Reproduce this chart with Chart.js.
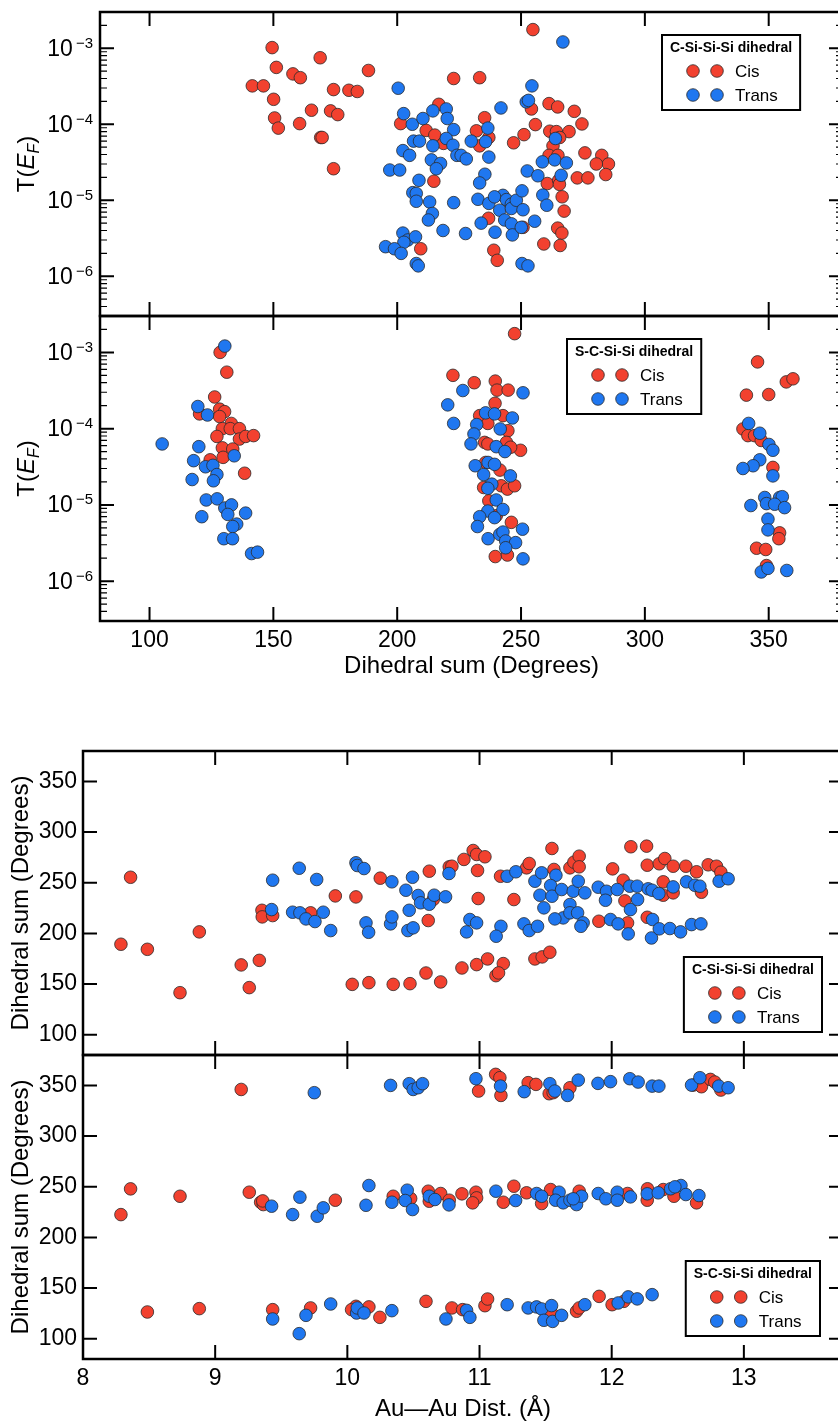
<!DOCTYPE html>
<html>
<head>
<meta charset="utf-8">
<script src="https://cdn.jsdelivr.net/npm/chart.js@4.4.1/dist/chart.umd.min.js"></script>
<style>
  html, body { margin: 0; padding: 0; background: #fff; overflow: hidden; width: 838px; height: 1424px; }
  canvas { position: absolute; left: 0; }
</style>
</head>
<body>
<canvas id="c1" width="860" height="330" style="top:0px;width:860px;height:330px"></canvas>
<canvas id="c2" width="860" height="400" style="top:300px;width:860px;height:400px"></canvas>
<canvas id="c3" width="860" height="346" style="top:730px;width:860px;height:346px"></canvas>
<canvas id="c4" width="860" height="390" style="top:1034px;width:860px;height:390px"></canvas>
<script>
const RED = "#f2412f";
const BLUE = "#1f77f0";
const EDGE = "#2b2b2b";
const FONT = '"Liberation Sans", Arial, Helvetica, sans-serif';

// tick labels
const dihedralTicks = [100, 150, 200, 250, 300, 350];
const transTicks = [1e-6, 1e-5, 1e-4, 1e-3];
const distTicks = [8, 9, 10, 11, 12, 13];
const sumTicks = [100, 150, 200, 250, 300, 350];

/* C-Si-Si-Si dihedral: sum vs T(EF) */
const csssCisSum = [149.5, 151.2, 157.9, 160.9, 168.9, 188.4, 141.5, 146, 150.1, 150.5, 152, 160.6, 165.4, 173.1, 176, 174.3, 180.5, 183.9, 169.1, 169.7, 174.3, 201.4, 209.5, 254.8, 222.8, 233.3, 216.8, 211.7, 215.2, 218.7, 235.3, 232, 237, 233.3, 214.8, 247, 251.2, 255.8, 254.2, 261.3, 264.8, 271.5, 274.6, 261.6, 264.3, 269.4, 265.6, 262.9, 261.3, 264.9, 275.8, 282.6, 285.3, 280.4, 284.2, 272.7, 277, 260.6, 265.2, 265.5, 266.6, 267.4, 264.8, 266.5, 259.2, 265.8, 236.9, 239, 240.4, 250.8];
const csssCisT = [1.02e-3, 5.6e-4, 4.6e-4, 4.1e-4, 7.5e-4, 5.1e-4, 3.2e-4, 3.2e-4, 2.13e-4, 1.21e-4, 8.9e-5, 1.02e-4, 1.53e-4, 1.5e-4, 1.34e-4, 2.86e-4, 2.8e-4, 2.7e-4, 6.7e-5, 6.7e-5, 2.6e-5, 1.02e-4, 2.3e-6, 1.76e-3, 4.0e-4, 4.1e-4, 1.83e-4, 8.3e-5, 7.2e-5, 5.6e-5, 1.22e-4, 8.2e-5, 6.7e-5, 5.2e-5, 1.78e-5, 5.7e-5, 7.3e-5, 9.9e-5, 1.59e-4, 1.87e-4, 1.69e-4, 1.48e-4, 1.01e-4, 8.1e-5, 8.0e-5, 8.0e-5, 6.7e-5, 5.2e-5, 3.9e-5, 3.9e-5, 4.2e-5, 3.9e-5, 3.0e-5, 3.0e-5, 2.18e-5, 1.97e-5, 1.97e-5, 1.66e-5, 1.83e-5, 1.62e-5, 1.11e-5, 7.2e-6, 4.3e-6, 3.7e-6, 2.66e-6, 2.54e-6, 5.8e-6, 2.2e-6, 1.62e-6, 4.4e-6];
const csssTransSum = [200.4, 202.6, 206.1, 206.6, 209, 202.3, 205, 197, 201, 208.8, 206.3, 207.7, 207.7, 202.3, 204.3, 202.7, 207.4, 195.3, 198.9, 201.6, 207.7, 208.5, 266.9, 254.4, 252.1, 253, 241.9, 210.4, 214.4, 219.8, 220.2, 222.8, 236.6, 219.8, 214.4, 222.5, 229.9, 235.7, 224.1, 225.8, 227.9, 237, 213.8, 217.5, 215.8, 213.1, 214.2, 212.6, 222.8, 235.4, 233.3, 232.6, 237, 242.7, 239.3, 241.4, 244.1, 246.1, 246.1, 248.1, 250.4, 250.8, 243.4, 246.1, 246.5, 250.1, 255.5, 239.5, 233.9, 218.5, 227.6, 250.4, 252.8, 252.5, 256.8, 258.8, 260.4, 258.6, 263.6, 268.3, 266.2, 263.9];
const csssTransT = [2.98e-4, 1.38e-4, 1.0e-4, 6.0e-5, 6.0e-5, 4.5e-5, 3.9e-5, 2.5e-5, 2.5e-5, 1.83e-5, 1.26e-5, 1.23e-5, 9.7e-6, 3.7e-6, 3.0e-6, 2.8e-6, 3.3e-6, 2.45e-6, 2.3e-6, 2.0e-6, 1.47e-6, 1.37e-6, 1.21e-3, 3.2e-4, 1.97e-4, 2.06e-4, 1.64e-4, 1.19e-4, 1.5e-4, 1.59e-4, 1.19e-4, 8.5e-5, 8.9e-5, 6.5e-5, 5.2e-5, 5.3e-5, 6.0e-5, 5.9e-5, 3.9e-5, 3.9e-5, 3.5e-5, 3.7e-5, 3.4e-5, 3.05e-5, 2.6e-5, 9.5e-6, 6.7e-6, 5.5e-6, 9.3e-6, 2.2e-5, 1.69e-5, 1.03e-5, 9.1e-6, 1.16e-5, 1.11e-5, 7.4e-6, 1.02e-5, 8.9e-6, 7.8e-6, 1.0e-5, 1.33e-5, 7.5e-6, 5.5e-6, 4.9e-6, 3.5e-6, 4.4e-6, 5.3e-6, 3.8e-6, 5.0e-6, 4.0e-6, 3.65e-6, 1.47e-6, 1.37e-6, 2.43e-5, 2.1e-5, 1.17e-5, 8.6e-6, 3.2e-5, 3.4e-5, 3.1e-5, 2.13e-5, 6.5e-5];

/* S-C-Si-Si dihedral: sum vs T(EF) */
const scssCisSum = [128.5, 131.2, 126.3, 128.3, 130.3, 128.3, 120.2, 133, 129.4, 132.6, 136.3, 127.2, 136.3, 138.8, 142, 129.4, 133.6, 129.7, 124.5, 138.4, 247.4, 222.5, 231.1, 239.6, 240.3, 244.8, 239.5, 233.3, 236.6, 242.7, 244.7, 235.3, 236.6, 244.1, 249.8, 245.8, 235.7, 241.5, 234.9, 242, 244.5, 247.4, 237, 240, 246.1, 239.6, 244.5, 345.5, 357.1, 359.8, 341, 350, 339.6, 341.6, 344.3, 347, 351.7, 354.4, 354.1, 345.1, 348.8, 349.1];
const scssCisT = [1.0e-3, 5.5e-4, 2.6e-4, 1.8e-4, 1.67e-4, 1.44e-4, 1.56e-4, 1.17e-4, 1.0e-4, 1.0e-4, 1.0e-4, 7.9e-5, 7.3e-5, 7.9e-5, 8.1e-5, 5.6e-5, 5.4e-5, 4.2e-5, 3.9e-5, 2.6e-5, 1.76e-3, 5.0e-4, 4.0e-4, 4.2e-4, 3.2e-4, 3.2e-4, 2.15e-4, 1.48e-4, 1.17e-4, 1.48e-4, 9.4e-5, 6.6e-5, 6.3e-5, 6.6e-5, 5.2e-5, 5.7e-5, 3.6e-5, 2.86e-5, 1.69e-5, 1.78e-5, 1.61e-5, 1.78e-5, 1.13e-5, 7.2e-6, 5.9e-6, 2.1e-6, 2.2e-6, 7.5e-4, 4.1e-4, 4.5e-4, 2.75e-4, 2.8e-4, 9.9e-5, 8.1e-5, 8.1e-5, 7.0e-5, 3.1e-5, 4.3e-6, 3.6e-6, 2.7e-6, 2.6e-6, 1.6e-6];
const scssTransSum = [130.4, 119.5, 123.4, 105.1, 119.9, 134.2, 117.8, 122.6, 125.6, 127.2, 117.2, 125.8, 122.9, 127.3, 130.4, 133.1, 131.6, 138.8, 121.1, 135.2, 133.6, 130, 133.5, 141.2, 143.6, 226.5, 250.8, 220.4, 222.8, 235.7, 239.3, 246.5, 232.1, 231, 241.6, 229.8, 240, 243.5, 231.5, 236.7, 239.3, 234.9, 245.7, 238.2, 236.6, 240, 236.6, 242.7, 233.3, 239.3, 232.4, 250.6, 236.7, 241.4, 242.7, 243.8, 247.8, 243.8, 250.8, 341.9, 346.4, 350.1, 351.7, 346.4, 343.7, 339.6, 351.7, 348.4, 354.4, 355.5, 349.1, 352.4, 356.4, 342.8, 349.7, 349.7, 347, 349.7, 357.3];
const scssTransT = [1.21e-3, 1.95e-4, 1.51e-4, 6.3e-5, 5.8e-5, 4.4e-5, 3.8e-5, 3.16e-5, 3.3e-5, 2.5e-5, 2.15e-5, 2.07e-5, 1.16e-5, 1.2e-5, 9.1e-6, 1.0e-5, 7.5e-6, 7.8e-6, 7.0e-6, 5.6e-6, 5.2e-6, 3.6e-6, 3.6e-6, 2.3e-6, 2.4e-6, 3.16e-4, 2.95e-4, 2.05e-4, 1.17e-4, 1.61e-4, 1.56e-4, 1.38e-4, 1.13e-4, 8.5e-5, 9.9e-5, 6.3e-5, 5.8e-5, 5.0e-5, 3.26e-5, 3.6e-5, 3.4e-5, 2.5e-5, 2.4e-5, 1.87e-5, 1.65e-5, 1.16e-5, 8.3e-6, 8.7e-6, 7.0e-6, 6.8e-6, 5.2e-6, 4.8e-6, 3.6e-6, 4.1e-6, 4.4e-6, 3.36e-6, 3.2e-6, 2.74e-6, 1.96e-6, 1.17e-4, 8.7e-5, 6.2e-5, 5.2e-5, 3.9e-5, 3.26e-5, 3.0e-5, 2.4e-5, 1.25e-5, 1.25e-5, 1.28e-5, 1.04e-5, 1.02e-5, 9.2e-6, 9.8e-6, 6.5e-6, 4.7e-6, 1.32e-6, 1.47e-6, 1.38e-6];

/* C-Si-Si-Si dihedral: Au-Au distance vs sum */
const csssCisDist = [8.287, 8.36, 8.487, 8.734, 8.88, 9.197, 9.258, 9.334, 9.354, 9.356, 9.435, 9.722, 9.909, 10.065, 10.037, 10.163, 10.347, 10.474, 10.249, 10.595, 10.706, 10.867, 10.978, 11.061, 11.18, 11.124, 11.144, 11.419, 11.474, 11.532, 10.62, 10.771, 10.791, 10.882, 10.952, 10.978, 11.041, 10.985, 10.99, 10.612, 10.65, 11.159, 11.26, 11.356, 11.376, 11.548, 11.563, 11.684, 11.714, 11.754, 11.754, 11.903, 12.007, 12.087, 12.1, 12.12, 12.145, 12.264, 12.269, 12.269, 12.36, 12.402, 12.465, 12.561, 12.642, 12.73, 12.793, 12.826, 12.39, 12.39, 12.465, 12.679];
const csssCisDeg = [189.3, 255.4, 184.3, 141.5, 201.5, 168.9, 146.5, 173.4, 222.8, 216.3, 217.6, 220.3, 237, 236, 149.7, 151.4, 149.7, 150.4, 254.5, 160.9, 152.1, 165.9, 169.2, 174.8, 170.2, 158.3, 161, 174.8, 176.8, 181.4, 261.4, 265.7, 266.3, 273, 281.8, 277.9, 275.6, 262.1, 234.4, 212.7, 233.4, 256.4, 233.4, 264.7, 269, 283.8, 263.1, 264.7, 270.3, 276.2, 265.7, 212, 263.7, 252.5, 232.1, 210.4, 285.5, 286.1, 267.3, 215.9, 268.7, 273.9, 266.3, 266.3, 260.8, 267.7, 266.3, 260.4, 250.9, 237.7, 240, 240.6];
const csssTransDist = [9.435, 9.427, 9.636, 9.768, 9.586, 9.641, 9.687, 9.755, 9.818, 9.874, 10.065, 10.075, 10.126, 10.337, 10.443, 10.493, 10.141, 10.161, 10.327, 10.337, 10.468, 10.458, 10.498, 10.536, 10.554, 10.62, 10.657, 10.743, 10.769, 10.927, 10.978, 10.902, 11.162, 11.126, 11.209, 11.275, 11.336, 11.376, 11.439, 11.419, 11.47, 11.578, 11.538, 11.457, 11.548, 11.487, 11.621, 11.709, 11.747, 11.797, 11.684, 11.633, 11.57, 11.684, 11.742, 11.784, 11.767, 11.898, 11.961, 11.953, 12.042, 11.991, 12.049, 12.125, 12.142, 12.196, 12.137, 12.193, 12.276, 12.306, 12.357, 12.309, 12.301, 12.36, 12.44, 12.521, 12.604, 12.675, 12.465, 12.566, 12.629, 12.667, 12.813, 12.881];
const csssTransDeg = [252.5, 223.5, 264.3, 253.2, 220.9, 220.3, 214.3, 211.7, 220.9, 202.8, 269.7, 267, 264, 250.9, 242.6, 255.4, 210.4, 201.1, 209.4, 216.3, 222.8, 202.8, 205.5, 237.4, 230.2, 228.8, 237.7, 236.1, 259.1, 213.7, 210.4, 201.5, 207, 197.2, 256.4, 260.8, 209.4, 202.8, 207, 251.5, 259.8, 257.4, 247.2, 237.7, 236.7, 225.2, 243.3, 241.6, 251.5, 240, 228.5, 215.3, 214.3, 220.3, 220.3, 210.4, 207, 245.6, 241.6, 232.7, 243.3, 213.7, 209.4, 199.5, 223.5, 233.4, 246.6, 246.6, 244, 242.6, 239.3, 213.7, 195.5, 204.5, 204.8, 201.5, 208.7, 209.4, 245.9, 250.9, 247.5, 246.6, 251.5, 253.9];

/* S-C-Si-Si dihedral: Au-Au distance vs sum */
const scssCisDist = [9.197, 8.287, 8.36, 8.734, 9.258, 9.344, 9.364, 9.36, 9.909, 8.487, 8.88, 9.435, 9.722, 10.065, 10.032, 10.163, 10.246, 10.347, 10.479, 10.993, 11.122, 11.154, 11.162, 11.368, 11.427, 11.527, 11.557, 11.684, 12.617, 12.679, 12.747, 12.78, 12.826, 10.612, 10.62, 10.706, 10.771, 10.867, 10.973, 10.978, 10.948, 11.18, 11.26, 11.356, 11.47, 11.538, 11.754, 12.12, 12.271, 12.269, 12.39, 12.471, 12.642, 10.595, 10.791, 10.872, 11.041, 11.061, 11.545, 11.734, 11.754, 11.905, 12.003, 12.092];
const scssCisDeg = [346, 222.5, 247.9, 240.6, 244.6, 234.7, 232.4, 236, 236.7, 126.4, 129.7, 128.7, 130.4, 132, 128.7, 131.4, 121.1, 240.6, 238.4, 344.4, 360.9, 357.6, 340.1, 352.7, 351, 341.8, 342.8, 347.7, 350.3, 348.7, 355.9, 353.3, 345.4, 245.6, 235.7, 243.3, 236.7, 243, 244.6, 239, 234.1, 234.7, 250.5, 244, 233.4, 247.2, 245.6, 243.3, 248, 236.7, 247.2, 240.6, 234.1, 136.9, 130.4, 128.7, 132.6, 139.2, 125.4, 127.1, 130.4, 141.8, 133.6, 136.9];
const scssTransDist = [9.75, 10.327, 10.468, 10.498, 10.536, 10.569, 10.973, 11.159, 11.338, 11.532, 11.57, 11.666, 11.747, 11.896, 11.991, 12.137, 12.2, 12.306, 12.357, 12.604, 12.667, 12.81, 12.881, 9.427, 9.641, 9.586, 9.772, 9.818, 10.141, 10.163, 10.337, 10.453, 10.438, 10.493, 10.62, 10.663, 10.769, 11.124, 11.273, 11.432, 11.47, 11.602, 11.575, 11.633, 11.684, 11.734, 11.772, 11.709, 11.898, 11.956, 12.042, 12.042, 12.142, 12.269, 12.352, 12.446, 12.524, 12.478, 12.561, 12.66, 9.435, 9.636, 9.687, 9.874, 10.07, 10.075, 10.126, 10.337, 10.746, 10.902, 10.927, 11.209, 11.368, 11.432, 11.47, 11.545, 11.487, 11.553, 11.621, 11.797, 12.049, 12.125, 12.193, 12.306];
const scssTransDeg = [342.8, 350, 351.7, 346, 347.7, 351.7, 356.6, 349.3, 343.8, 351.7, 344.4, 340.1, 355.2, 352, 353.7, 356.6, 353.3, 349.3, 349.3, 350.3, 357.6, 349.3, 347.7, 230.8, 239.7, 222.5, 220.9, 229.2, 231.7, 251.2, 234.7, 246.6, 236.4, 227.5, 240.6, 237.4, 232.1, 245.6, 236.4, 243.3, 240.6, 244.6, 236.7, 234.1, 236.7, 232.4, 240.6, 238.1, 243.3, 238.1, 244.6, 236.7, 240, 243, 244, 248, 251.2, 249.9, 242.3, 241.3, 119.5, 105, 123.1, 134.3, 125.4, 130.4, 125.4, 127.7, 119.5, 128, 121.1, 133.6, 130.4, 131.4, 129.4, 132.7, 118.2, 117.1, 123.1, 133.6, 135.3, 141.3, 139.3, 143.5];

Chart.defaults.font.family = FONT;
Chart.defaults.color = "#000";

const pts = (xs, ys) => xs.map((v, i) => ({ x: v, y: ys[i] }));

const series = (label, color, xs, ys, order) => ({
  label,
  data: pts(xs, ys),
  backgroundColor: color,
  borderColor: EDGE,
  pointRadius: 6.3,
  pointHoverRadius: 6.3,
  pointBorderWidth: 0.8,
  order,
});

function drawLegend(chart, L) {
  const { ctx, chartArea: a } = chart;
  ctx.font = "bold 14px " + FONT;
  const w = ctx.measureText(L.title).width + 16;
  const h = 75;
  const left = L.left != null ? a.left + L.left : a.right - L.right - w;
  const top = L.top != null ? a.top + L.top : a.bottom - L.bottom - h;
  ctx.fillStyle = "#fff";
  ctx.fillRect(left, top, w, h);
  ctx.lineWidth = 2;
  ctx.strokeStyle = "#000";
  ctx.strokeRect(left, top, w, h);
  ctx.fillStyle = "#000";
  ctx.textAlign = "left";
  ctx.textBaseline = "middle";
  ctx.fillText(L.title, left + 8, top + 13);
  chart.data.datasets.forEach((ds, i) => {
    const cy = top + 36 + i * 24;
    [31, 55].forEach((dx) => {
      ctx.beginPath();
      ctx.arc(left + dx, cy, 6.3, 0, Math.PI * 2);
      ctx.fillStyle = ds.backgroundColor;
      ctx.fill();
      ctx.lineWidth = 0.8;
      ctx.strokeStyle = EDGE;
      ctx.stroke();
    });
    ctx.fillStyle = "#000";
    ctx.font = "17px " + FONT;
    ctx.fillText(ds.label, left + 73, cy + 1);
  });
}

function drawMathTitle(chart) {
  const { ctx, chartArea: a } = chart;
  const parts = [
    ["T(", "24px " + FONT, 0],
    ["E", "italic 24px " + FONT, 0],
    ["F", "italic 16px " + FONT, 5],
    [")", "24px " + FONT, 0],
  ];
  let total = 0;
  parts.forEach((p) => { ctx.font = p[1]; total += ctx.measureText(p[0]).width; });
  ctx.save();
  ctx.translate(25, (a.top + a.bottom) / 2);
  ctx.rotate(-Math.PI / 2);
  ctx.textAlign = "left";
  ctx.textBaseline = "alphabetic";
  ctx.fillStyle = "#000";
  let u = -total / 2;
  parts.forEach((p) => {
    ctx.font = p[1];
    ctx.fillText(p[0], u, 8.5 + p[2]);
    u += ctx.measureText(p[0]).width;
  });
  ctx.restore();
}

const framePlugin = {
  id: "frame",
  afterDraw(chart, args, o) {
    const { ctx, chartArea: a } = chart;
    const xs = chart.scales.x, ys = chart.scales.y;
    ctx.save();
    ctx.strokeStyle = "#000";
    ctx.lineWidth = 2;
    ctx.beginPath();
    o.xTicks.forEach((v) => {
      const p = xs.getPixelForValue(v);
      ctx.moveTo(p, a.top); ctx.lineTo(p, a.top + 14);
      ctx.moveTo(p, a.bottom); ctx.lineTo(p, a.bottom - 14);
    });
    o.yTicks.forEach((v) => {
      const p = ys.getPixelForValue(v);
      ctx.moveTo(a.left, p); ctx.lineTo(a.left + 14, p);
      ctx.moveTo(a.right, p); ctx.lineTo(a.right - 14, p);
    });
    ctx.stroke();
    if (o.log) {
      ctx.lineWidth = 1.2;
      ctx.beginPath();
      for (let k = -7; k <= -3; k++) {
        for (let m = 2; m <= 9; m++) {
          const v = m * Math.pow(10, k);
          if (v < ys.min || v > ys.max) continue;
          const p = ys.getPixelForValue(v);
          ctx.moveTo(a.left, p); ctx.lineTo(a.left + 7, p);
          ctx.moveTo(a.right, p); ctx.lineTo(a.right - 7, p);
        }
      }
      ctx.stroke();
      // 10^n labels
      ctx.fillStyle = "#000";
      ctx.textAlign = "left";
      ctx.textBaseline = "alphabetic";
      o.yTicks.forEach((v) => {
        const p = ys.getPixelForValue(v);
        const e = Math.round(Math.log10(v));
        const sup = "\u2212" + Math.abs(e);
        ctx.font = "15px " + FONT;
        const ws = ctx.measureText(sup).width;
        ctx.font = "23px " + FONT;
        const wb = ctx.measureText("10").width;
        const right = a.left - 7;
        ctx.fillText("10", right - ws - 3 - wb, p + 7.5);
        ctx.font = "15px " + FONT;
        ctx.fillText(sup, right - ws, p - 0.5);
      });
    }
    ctx.lineWidth = 2.5;
    ctx.strokeRect(a.left, a.top, a.right - a.left, a.bottom - a.top);
    if (o.mathTitle) drawMathTitle(chart);
    if (o.legend) drawLegend(chart, o.legend);
    ctx.restore();
  },
};

const hidden = { display: false };

function makeChart(id, cfg) {
  const xTickList = cfg.xTicks;
  const yTickList = cfg.yTicks;
  new Chart(document.getElementById(id), {
    type: "scatter",
    data: { datasets: cfg.datasets },
    options: {
      responsive: false,
      animation: false,
      devicePixelRatio: 1,
      layout: { padding: { top: cfg.padTop, right: 17, left: 0, bottom: 0 }, autoPadding: false },
      plugins: {
        legend: hidden,
        tooltip: { enabled: false },
        frame: { xTicks: xTickList, yTicks: yTickList, log: cfg.log, mathTitle: cfg.log, legend: cfg.legend },
      },
      scales: {
        x: {
          type: "linear",
          min: cfg.xMin,
          max: cfg.xMax,
          afterBuildTicks: (s) => { s.ticks = xTickList.map((v) => ({ value: v })); },
          afterFit: (s) => { s.height = cfg.xHeight; },
          grid: { display: false, drawTicks: false },
          border: { display: false },
          ticks: { display: cfg.xLabels, padding: 6, maxRotation: 0, autoSkip: false, font: { size: 23 } },
          title: { display: !!cfg.xTitle, text: cfg.xTitle || "", font: { size: 24 }, padding: { top: 0, bottom: cfg.xTitlePad || 0 } },
        },
        y: {
          type: cfg.log ? "logarithmic" : "linear",
          min: cfg.yMin,
          max: cfg.yMax,
          afterBuildTicks: (s) => { s.ticks = yTickList.map((v) => ({ value: v })); },
          afterFit: (s) => { s.width = cfg.yWidth; },
          grid: { display: false, drawTicks: false },
          border: { display: false },
          ticks: { display: !cfg.log, padding: 6, autoSkip: false, font: { size: 23 } },
          title: { display: !cfg.log, text: "Dihedral sum (Degrees)", font: { size: 24 }, padding: { top: 7, bottom: 0 } },
        },
      },
    },
    plugins: [framePlugin],
  });
}

makeChart("c1", {
  datasets: [series("Cis", RED, csssCisSum, csssCisT, 2), series("Trans", BLUE, csssTransSum, csssTransT, 1)],
  xMin: 80, xMax: 380, xTicks: dihedralTicks, xLabels: false, xHeight: 14,
  yMin: 3e-7, yMax: 3e-3, yTicks: transTicks, log: true, yWidth: 100, padTop: 12,
  legend: { title: "C-Si-Si-Si dihedral", left: 562, top: 23 },
});

makeChart("c2", {
  datasets: [series("Cis", RED, scssCisSum, scssCisT, 2), series("Trans", BLUE, scssTransSum, scssTransT, 1)],
  xMin: 80, xMax: 380, xTicks: dihedralTicks, xLabels: true, xHeight: 79,
  xTitle: "Dihedral sum (Degrees)", xTitlePad: 19,
  yMin: 3e-7, yMax: 3e-3, yTicks: transTicks, log: true, yWidth: 100, padTop: 16,
  legend: { title: "S-C-Si-Si dihedral", left: 467, top: 23 },
});

makeChart("c3", {
  datasets: [series("Cis", RED, csssCisDist, csssCisDeg, 2), series("Trans", BLUE, csssTransDist, csssTransDeg, 1)],
  xMin: 8, xMax: 13.75, xTicks: distTicks, xLabels: false, xHeight: 21,
  yMin: 80, yMax: 380, yTicks: sumTicks, log: false, yWidth: 83, padTop: 21,
  legend: { title: "C-Si-Si-Si dihedral", right: 21, bottom: 23 },
});

makeChart("c4", {
  datasets: [series("Cis", RED, scssCisDist, scssCisDeg, 2), series("Trans", BLUE, scssTransDist, scssTransDeg, 1)],
  xMin: 8, xMax: 13.75, xTicks: distTicks, xLabels: true, xHeight: 65,
  xTitle: "Au\u2014Au Dist. (\u00c5)", xTitlePad: 0,
  yMin: 80, yMax: 380, yTicks: sumTicks, log: false, yWidth: 83, padTop: 21,
  legend: { title: "S-C-Si-Si dihedral", right: 23, bottom: 23 },
});
</script>
</body>
</html>
